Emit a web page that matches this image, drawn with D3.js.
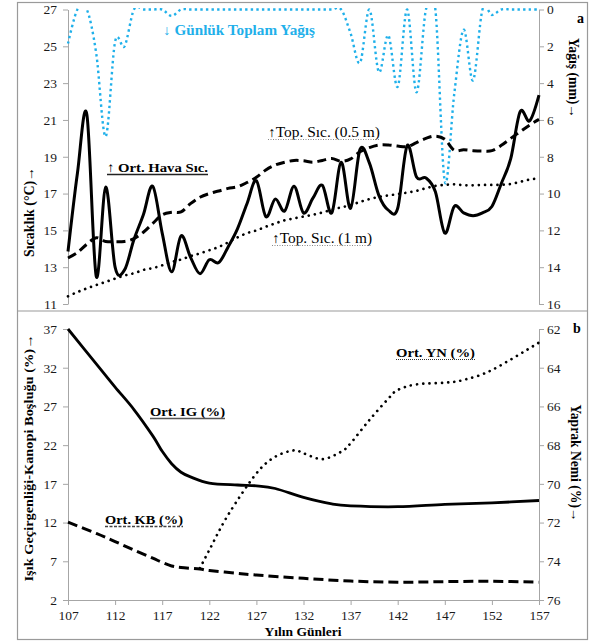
<!DOCTYPE html>
<html>
<head>
<meta charset="utf-8">
<script src="https://cdn.jsdelivr.net/npm/d3@7"></script>
<style>
  body { margin: 0; background: #fff; }
  text { font-family: "Liberation Serif", "Times New Roman", serif; }
</style>
</head>
<body>
<svg id="chart" width="589" height="642"></svg>
<script>
// --- panel a: daily values, days 107..157
const days = d3.range(107, 158);
const airTemp = [13.85, 18.1, 21.3, 12.5, 17.35, 13.0, 12.85, 14.5, 15.85, 17.4,
  14.85, 12.75, 14.7, 13.55, 12.65, 13.4, 13.25, 14.1, 15.1, 16.45,
  17.7, 15.75, 16.7, 16.05, 17.4, 15.95, 16.75, 17.45, 15.95, 18.7,
  16.2, 19.4, 18.65, 16.9, 16.1, 16.2, 19.6, 17.9, 17.85, 17.1,
  14.85, 16.3, 15.95, 15.8, 15.95, 16.3, 17.55, 18.9, 21.45, 20.95,
  22.35];
const soil05 = [13.5, 13.8, 14.25, 14.6, 14.4, 14.38, 14.4, 14.55, 14.9, 15.38,
  15.84, 15.98, 16.0, 16.45, 16.8, 17.0, 17.14, 17.28, 17.37, 17.6,
  17.88, 18.28, 18.55, 18.7, 18.8, 18.78, 18.7, 18.8, 18.9, 18.75,
  18.88, 19.27, 19.5, 19.64, 19.64, 19.58, 19.55, 19.77, 20.0, 20.12,
  19.95, 19.35, 19.38, 19.33, 19.31, 19.33, 19.62, 20.0, 20.36, 20.72,
  21.03];
const soil1 = [11.42, 11.65, 11.85, 12.03, 12.2, 12.38, 12.55, 12.67, 12.85, 12.95,
  13.1, 13.28, 13.42, 13.6, 13.75, 13.92, 14.1, 14.35, 14.62, 14.85,
  15.0, 15.2, 15.38, 15.55, 15.65, 15.75, 15.85, 15.97, 16.12, 16.25,
  16.37, 16.55, 16.7, 16.82, 16.9, 16.97, 17.05, 17.15, 17.29, 17.42,
  17.47, 17.5, 17.45, 17.45, 17.47, 17.47, 17.48, 17.52, 17.64, 17.76,
  17.82];
const rain = [1.85, 0, 0, 2.4, 6.9, 1.75, 2.0, 0, 0, 0,
  0, 0.35, 0, 0, 0, 0, 0, 0, 0, 0,
  0, 0, 0, 0, 0, 0, 0, 0, 0, 0,
  1.3, 2.9, 0, 3.4, 1.4, 4.2, 0, 4.5, 0, 0,
  9.35, 4.6, 1.1, 3.85, 0, 0.3, 0, 0, 0, 0,
  0];

// --- panel b
const igDays = [107, 110, 112, 114, 116, 117, 118, 119, 120, 122, 125, 127, 129, 132, 135, 137, 142, 147, 152, 157];
const igVals = [37, 32.5, 29.5, 26.6, 23.2, 21.2, 19.6, 18.5, 17.9, 17.1, 16.85, 16.75, 16.4, 15.25, 14.4, 14.15, 14.05, 14.35, 14.55, 14.85];
const kbDays = [107, 110, 112, 114, 116, 117, 118, 119, 121, 122, 125, 127, 132, 137, 142, 147, 152, 157];
const kbVals = [12.05, 10.6, 9.55, 8.45, 7.4, 6.85, 6.4, 6.2, 6.0, 5.8, 5.45, 5.22, 4.8, 4.45, 4.3, 4.37, 4.42, 4.3];
const ynDays = [121, 122, 124, 127, 129, 131, 132, 134, 136, 137, 139, 141, 142, 144, 147, 149, 152, 157];
const ynVals = [74.36, 73.42, 71.6, 69.46, 68.6, 68.27, 68.42, 68.72, 68.34, 67.9, 66.7, 65.6, 65.15, 64.86, 64.77, 64.63, 64.12, 62.7];

const dayTicks = [107, 112, 117, 122, 127, 132, 137, 142, 147, 152, 157];
const tempTicks = [11, 13, 15, 17, 19, 21, 23, 25, 27];
const rainTicks = [0, 2, 4, 6, 8, 10, 12, 14, 16];
const igTicks = [2, 7, 12, 17, 22, 27, 32, 37];
const ynTicks = [62, 64, 66, 68, 70, 72, 74, 76];

const svg = d3.select("#chart");
const axisGrey = "#a6a6a6";
const blue = "#1fb0ea";

const x = d3.scaleLinear().domain([107, 157]).range([68, 539]);
const yT = d3.scaleLinear().domain([11, 27]).range([304, 9.5]);
const yR = d3.scaleLinear().domain([0, 16]).range([9.5, 304]);
const yB = d3.scaleLinear().domain([2, 37]).range([600, 329]);
const yN = d3.scaleLinear().domain([62, 76]).range([329, 600]);

// frame
svg.append("rect").attr("x", 17.5).attr("y", 2.5).attr("width", 570).attr("height", 637)
  .attr("fill", "none").attr("stroke", "#9a9a9a").attr("stroke-width", 1.2);
svg.append("line").attr("x1", 17.5).attr("x2", 587.5).attr("y1", 311).attr("y2", 311)
  .attr("stroke", "#9a9a9a").attr("stroke-width", 1.2);

function styleAxis(g) {
  g.attr("font-family", null).attr("font-size", null);
  g.select(".domain").attr("stroke", axisGrey);
  g.selectAll(".tick line").attr("stroke", axisGrey);
  g.selectAll(".tick text").attr("font-size", "13.5px").attr("fill", "#1a1a1a");
}

// axes panel a
svg.append("g").attr("transform", "translate(68,0)")
  .call(d3.axisLeft(yT).tickValues(tempTicks).tickSize(5).tickSizeOuter(0).tickPadding(6))
  .call(styleAxis);
svg.append("g").attr("transform", "translate(539,0)")
  .call(d3.axisRight(yR).tickValues(rainTicks).tickSize(5).tickSizeOuter(0).tickPadding(3))
  .call(styleAxis);

// axes panel b
svg.append("g").attr("transform", "translate(68,0)")
  .call(d3.axisLeft(yB).tickValues(igTicks).tickSize(5).tickSizeOuter(0).tickPadding(6))
  .call(styleAxis);
svg.append("g").attr("transform", "translate(539,0)")
  .call(d3.axisRight(yN).tickValues(ynTicks).tickSize(5).tickSizeOuter(0).tickPadding(3))
  .call(styleAxis);
svg.append("g").attr("transform", "translate(0,600)")
  .call(d3.axisBottom(x).tickValues(dayTicks).tickSize(5).tickSizeOuter(0).tickPadding(5))
  .call(styleAxis);

// clip for panel a
svg.append("clipPath").attr("id", "clipA").append("rect")
  .attr("x", 60).attr("y", 8).attr("width", 490).attr("height", 300);

const smooth = d3.curveCardinal.tension(0);
function drawLine(xs, ys, yScale, style, clip) {
  const gen = d3.line().x(d => x(d[0])).y(d => yScale(d[1])).curve(smooth);
  const p = svg.append("path").datum(d3.zip(xs, ys))
    .attr("d", gen).attr("fill", "none")
    .attr("stroke", style.color || "#000")
    .attr("stroke-width", style.width)
    .attr("stroke-linecap", style.cap || "butt")
    .attr("stroke-linejoin", "round");
  if (style.dash) p.attr("stroke-dasharray", style.dash);
  if (clip) p.attr("clip-path", "url(#" + clip + ")");
}

// panel a series
drawLine(days, rain, yR, { color: blue, width: 2.4, dash: "2.4,3.2" }, "clipA");
drawLine(days, soil1, yT, { width: 2.7, dash: "0.01,6.2", cap: "round" }, "clipA");
drawLine(days, soil05, yT, { width: 3, dash: "9,5" }, "clipA");
drawLine(days, airTemp, yT, { width: 3 }, "clipA");

// panel b series
drawLine(kbDays, kbVals, yB, { width: 3, dash: "10,5" });
drawLine(ynDays, ynVals, yN, { width: 2.7, dash: "0.01,6.2", cap: "round" });
drawLine(igDays, igVals, yB, { width: 2.8 });

// labels
function label(tx, ty, txt, o) {
  const t = svg.append("text").attr("x", tx).attr("y", ty).text(txt)
    .attr("font-size", (o.size || 13.5) + "px")
    .attr("font-weight", o.bold ? "bold" : "normal")
    .attr("fill", o.color || "#000");
  if (o.len) t.attr("textLength", o.len).attr("lengthAdjust", "spacingAndGlyphs");
  if (o.under) {
    const w = t.node().getComputedTextLength();
    const u = svg.append("line").attr("x1", tx).attr("x2", tx + w)
      .attr("y1", ty + 2.5).attr("y2", ty + 2.5)
      .attr("stroke", o.under.color).attr("stroke-width", o.under.width || 1.2);
    if (o.under.dash) u.attr("stroke-dasharray", o.under.dash);
  }
  return t;
}
function vlabel(cx, cy, angle, txt, o) {
  svg.append("text").attr("transform", `translate(${cx},${cy}) rotate(${angle})`)
    .attr("text-anchor", "middle").text(txt)
    .attr("font-size", (o.size || 13.5) + "px").attr("font-weight", "bold")
    .attr("textLength", o.len).attr("lengthAdjust", "spacingAndGlyphs");
}

label(163, 35, "↓ Günlük Toplam Yağış", { bold: true, size: 14, color: blue, len: 152 });
label(107, 172, "↑ Ort. Hava Sıc.", { bold: true, size: 13.5, len: 101, under: { color: "#222", width: 1.3 } });
label(268, 137, "↑Top. Sıc. (0.5 m)", { size: 14, len: 112, under: { color: "#888", width: 1.2, dash: "1,1.5" } });
label(272, 243, "↑Top. Sıc. (1 m)", { size: 14, len: 100, under: { color: "#888", width: 1.2, dash: "1,1.5" } });
label(150, 416, "Ort. IG (%)", { bold: true, size: 13.5, len: 75, under: { color: "#555", width: 1.3 } });
label(105, 524, "Ort. KB (%)", { bold: true, size: 13.5, len: 78, under: { color: "#444", width: 1.3, dash: "3,1.5" } });
label(396, 357, "Ort. YN (%)", { bold: true, size: 13.5, len: 79, under: { color: "#333", width: 1.2, dash: "1,1" } });

label(577, 23, "a", { bold: true, size: 14 });
label(573, 333, "b", { bold: true, size: 14 });

vlabel(34, 212, -90, "Sıcaklık (°C)→", { size: 14, len: 90 });
vlabel(569, 78, 90, "Yağış (mm)→", { size: 14, len: 80 });
vlabel(33, 458, -90, "Işık  Geçirgenliği-Kanopi  Boşluğu (%)→", { size: 13.5, len: 247 });
vlabel(571, 463, 90, "Yaprak Nemi (%)→", { size: 14, len: 117 });

svg.append("text").attr("x", 303).attr("y", 636).attr("text-anchor", "middle")
  .attr("font-size", "13.5px").attr("font-weight", "bold").text("Yılın  Günleri");
</script>
</body>
</html>
